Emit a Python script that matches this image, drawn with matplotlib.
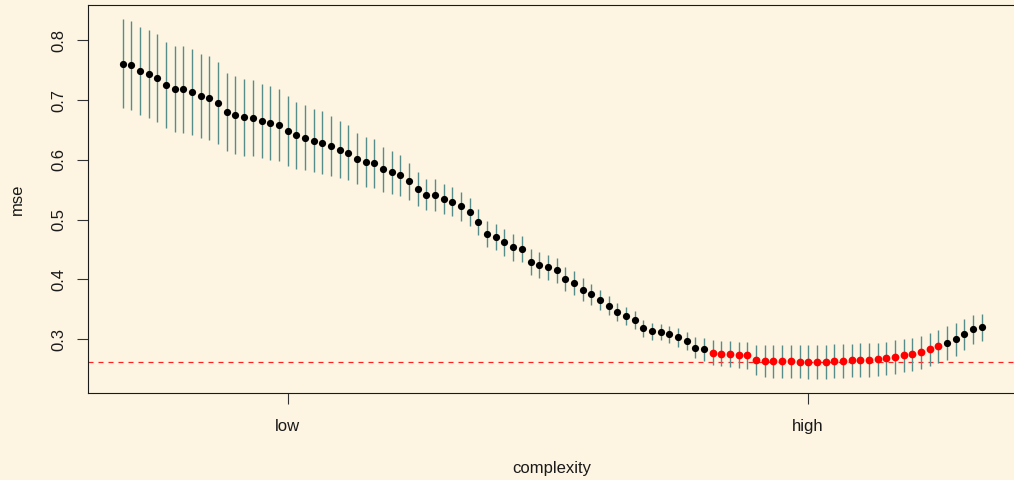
import numpy as np
import matplotlib
matplotlib.use("Agg")
import matplotlib.pyplot as plt

plt.rcParams['font.family'] = ['Liberation Sans', 'DejaVu Sans']

# ---- data ----
complexity = list(range(1, 101))
mse_mean = [
    .761, .758, .748, .744, .737, .725, .719, .718, .714, .707,
    .704, .695, .680, .675, .671, .670, .665, .661, .658, .648,
    .641, .637, .632, .629, .623, .617, .612, .602, .597, .594,
    .584, .579, .574, .564, .551, .542, .541, .534, .530, .522,
    .512, .496, .476, .471, .462, .454, .451, .429, .424, .420,
    .415, .401, .394, .383, .375, .365, .356, .346, .339, .332,
    .318, .313, .312, .308, .303, .297, .286, .283, .277, .276,
    .275, .274, .273, .265, .263, .263, .263, .263, .2625, .262,
    .2615, .262, .2632, .2637, .2644, .2649, .2652, .266, .2677, .2704,
    .2727, .2744, .2778, .2828, .2878, .2933, .2995, .3079, .3162, .3196,
]
mse_se = [
    .0745, .074, .0735, .074, .074, .0725, .072, .0725, .072, .0705,
    .070, .069, .0655, .0645, .064, .064, .062, .062, .060, .058,
    .0555, .0545, .053, .052, .050, .0475, .046, .0425, .042, .0405,
    .038, .0365, .0345, .0315, .029, .0265, .0265, .025, .0245, .024,
    .0235, .0225, .0225, .022, .0225, .0225, .022, .022, .0215, .0215,
    .021, .020, .0195, .0185, .018, .0165, .016, .015, .0145, .015,
    .0145, .014, .0135, .0145, .0155, .0148, .018, .019, .021, .0217,
    .022, .022, .023, .0256, .0264, .028, .028, .028, .028, .028,
    .028, .028, .028, .028, .028, .028, .028, .028, .028, .028,
    .028, .028, .028, .028, .027, .0284, .027, .026, .0245, .0226,
]
best_first, best_last = 69, 95          # points drawn in red
xtick_pos = [20, 80]
xtick_labels = ["low", "high"]
ytick_pos = [0.3, 0.4, 0.5, 0.6, 0.7, 0.8]
ytick_labels = ["0.3", "0.4", "0.5", "0.6", "0.7", "0.8"]

# ---- figure ----
W, H, DPI = 1014, 480, 100
bg = '#FDF5E2'
fig = plt.figure(figsize=(W / DPI, H / DPI), dpi=DPI, facecolor=bg)
L, R, T, B = 88.3, 1016.1, 4.7, 393.3
ax = fig.add_axes([L / W, 1 - B / H, (R - L) / W, (B - T) / H])
ax.set_facecolor(bg)

x = np.array(complexity)
m = np.array(mse_mean)
s = np.array(mse_se)

ax.axhline(m.min(), color='#ff2020', lw=0.9, linestyle=(0, (4.0, 4.0)), zorder=1)
ax.vlines(x, m - s, m + s, color='#568d8b', lw=1.0, zorder=2)

is_best = (x >= best_first) & (x <= best_last)
ax.plot(x[~is_best], m[~is_best], 'o', color='black', ms=5.2, mew=0, zorder=3)
ax.plot(x[is_best], m[is_best], 'o', color='#ff0000', ms=5.6, mew=0, zorder=3)

ax.margins(x=0.04, y=0.04)

ax.set_xticks(xtick_pos)
ax.set_xticklabels(xtick_labels)
ax.set_yticks(ytick_pos)
ax.set_yticklabels(ytick_labels, rotation=90, va='center')

ax.tick_params(axis='both', direction='out', length=7.9, width=0.8,
               color='#333333', labelsize=12, labelcolor='#1a1a1a')
ax.tick_params(axis='x', pad=10.5)
ax.tick_params(axis='y', pad=7.6)

for sp in ax.spines.values():
    sp.set_linewidth(0.8)
    sp.set_color('#1a1a1a')

fig.text(552 / W, 1 - 473 / H, 'complexity', ha='center', va='baseline',
         fontsize=12, color='#1a1a1a')
fig.text(21.7 / W, 1 - 199 / H, 'mse', ha='center', va='baseline', rotation=90,
         rotation_mode='anchor', fontsize=12, color='#1a1a1a')

fig.savefig('out.png', dpi=DPI, facecolor=bg)
